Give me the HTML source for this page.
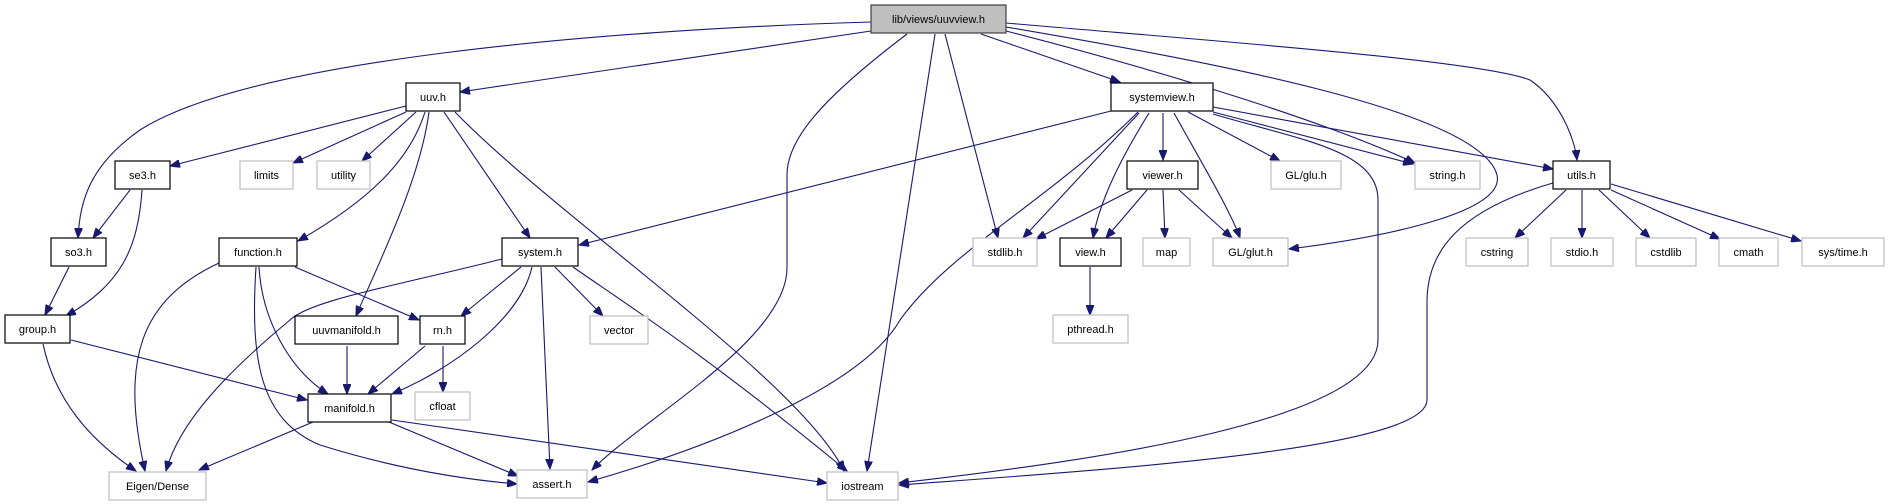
<!DOCTYPE html>
<html><head><meta charset="utf-8"><style>
html,body{margin:0;padding:0;background:#fff;}
svg{display:block;}
text{font-family:"Liberation Sans",sans-serif;font-size:11px;fill:#000;text-anchor:middle;}
.d{fill:#fff;stroke:#000;stroke-width:1.2;}
.s{fill:#fff;stroke:#bfbfbf;stroke-width:1.2;}
.e{fill:none;stroke:#191970;stroke-width:1.1;}
</style></head><body>
<svg width="1891" height="504" viewBox="0 0 1891 504" xmlns="http://www.w3.org/2000/svg">
<defs><marker id="a" markerWidth="11" markerHeight="8" refX="10" refY="4" orient="auto" markerUnits="userSpaceOnUse"><path d="M0,0 L10,4 L0,8 Z" fill="#191970" stroke="#191970"/></marker></defs>
<g marker-end="url(#a)">
<!-- root edges -->
<path class="e" d="M871,22 C600,30 250,60 140,130 C90,165 80,200 78,238"/>
<path class="e" d="M871,31 L460,92"/>
<path class="e" d="M907,34 C820,100 787,140 787,175 L787,268 C787,340 640,420 592,470"/>
<path class="e" d="M935,34 L867,471"/>
<path class="e" d="M945,34 L998,238"/>
<path class="e" d="M981,34 L1120,82"/>
<path class="e" d="M1006,31 C1100,55 1300,110 1415,163"/>
<path class="e" d="M1006,27 C1200,60 1480,110 1497,175 C1505,210 1400,235 1289,249"/>
<path class="e" d="M1006,23 C1200,40 1480,60 1530,80 C1560,100 1575,140 1577,160"/>
<!-- uuv.h -->
<path class="e" d="M406,106 L170,166"/>
<path class="e" d="M406,112 L293,163"/>
<path class="e" d="M416,112 L362,161"/>
<path class="e" d="M425,112 C410,160 370,200 298,241"/>
<path class="e" d="M429,112 C420,180 380,260 356,316"/>
<path class="e" d="M444,112 L530,238"/>
<path class="e" d="M455,112 C560,220 800,380 844,471"/>
<!-- systemview -->
<path class="e" d="M1111,111 L579,245"/>
<path class="e" d="M1138,112 C1050,200 950,250 900,320 C860,390 700,450 588,482"/>
<path class="e" d="M1139,113 L1023,238"/>
<path class="e" d="M1149,113 C1120,160 1100,200 1093,238"/>
<path class="e" d="M1163,113 L1163,160"/>
<path class="e" d="M1174,113 C1200,160 1230,210 1240,238"/>
<path class="e" d="M1188,112 L1280,161"/>
<path class="e" d="M1213,112 L1413,164"/>
<path class="e" d="M1213,114 C1300,140 1378,150 1378,200 L1378,340 C1378,420 1100,460 899,483"/>
<path class="e" d="M1213,107 L1553,169"/>
<!-- viewer -->
<path class="e" d="M1132,190 L1036,239"/>
<path class="e" d="M1147,190 L1106,238"/>
<path class="e" d="M1163,190 L1165,238"/>
<path class="e" d="M1179,190 L1232,238"/>
<path class="e" d="M1090,267 L1090,315"/>
<!-- utils -->
<path class="e" d="M1566,190 L1515,238"/>
<path class="e" d="M1582,190 L1582,238"/>
<path class="e" d="M1599,190 L1650,238"/>
<path class="e" d="M1611,190 L1720,239"/>
<path class="e" d="M1611,184 L1801,241"/>
<path class="e" d="M1553,183 C1460,210 1427,250 1427,302 L1427,400 C1427,450 1100,470 899,485"/>
<!-- se3, so3 -->
<path class="e" d="M130,190 L93,238"/>
<path class="e" d="M142,190 C138,250 120,285 66,316"/>
<path class="e" d="M69,267 L45,315"/>
<!-- function -->
<path class="e" d="M219,263 C140,300 120,360 145,471"/>
<path class="e" d="M259,267 C262,320 290,370 328,394"/>
<path class="e" d="M256,267 C250,360 260,420 320,445 C400,470 470,480 517,484"/>
<path class="e" d="M295,267 L419,320"/>
<path class="e" d="M347,346 L347,394"/>
<path class="e" d="M425,346 L368,394"/>
<path class="e" d="M443,346 L443,392"/>
<!-- system -->
<path class="e" d="M502,259 C400,285 310,300 290,320 C230,370 180,420 166,471"/>
<path class="e" d="M521,267 L461,316"/>
<path class="e" d="M532,267 C520,320 450,370 392,394"/>
<path class="e" d="M541,267 L550,469"/>
<path class="e" d="M555,267 L603,316"/>
<path class="e" d="M573,267 C620,300 700,350 847,471"/>
<!-- group -->
<path class="e" d="M71,340 L307,400"/>
<path class="e" d="M43,344 C55,400 90,440 136,471"/>
<!-- manifold -->
<path class="e" d="M313,422 L199,470"/>
<path class="e" d="M389,422 L518,476"/>
<path class="e" d="M392,420 L827,483"/>
</g>
<!-- nodes -->
<rect x="871" y="5" width="135" height="28" fill="#bfbfbf" stroke="#404040" stroke-width="1.2"/><text x="938.5" y="23">lib/views/uuvview.h</text>
<rect class="d" x="406" y="83" width="54" height="28"/><text x="433" y="101">uuv.h</text>
<rect class="d" x="1111" y="83" width="102" height="28"/><text x="1162" y="101">systemview.h</text>
<rect class="d" x="115" y="161" width="55" height="28"/><text x="142.5" y="179">se3.h</text>
<rect class="s" x="240" y="161" width="53" height="28"/><text x="266.5" y="179">limits</text>
<rect class="s" x="317" y="161" width="53" height="28"/><text x="343.5" y="179">utility</text>
<rect class="d" x="1127" y="161" width="71" height="28"/><text x="1162.5" y="179">viewer.h</text>
<rect class="s" x="1271" y="161" width="70" height="28"/><text x="1306" y="179">GL/glu.h</text>
<rect class="s" x="1415" y="161" width="65" height="28"/><text x="1447.5" y="179">string.h</text>
<rect class="d" x="1553" y="161" width="57" height="28"/><text x="1581.5" y="179">utils.h</text>
<rect class="d" x="51" y="238" width="55" height="28"/><text x="78.5" y="256">so3.h</text>
<rect class="d" x="219" y="238" width="78" height="28"/><text x="258" y="256">function.h</text>
<rect class="d" x="502" y="238" width="76" height="28"/><text x="540" y="256">system.h</text>
<rect class="s" x="973" y="238" width="64" height="28"/><text x="1005" y="256">stdlib.h</text>
<rect class="d" x="1060" y="238" width="61" height="28"/><text x="1090.5" y="256">view.h</text>
<rect class="s" x="1143" y="238" width="47" height="28"/><text x="1166.5" y="256">map</text>
<rect class="s" x="1213" y="238" width="75" height="28"/><text x="1250.5" y="256">GL/glut.h</text>
<rect class="s" x="1466" y="238" width="62" height="28"/><text x="1497" y="256">cstring</text>
<rect class="s" x="1551" y="238" width="62" height="28"/><text x="1582" y="256">stdio.h</text>
<rect class="s" x="1636" y="238" width="60" height="28"/><text x="1666" y="256">cstdlib</text>
<rect class="s" x="1719" y="238" width="59" height="28"/><text x="1748.5" y="256">cmath</text>
<rect class="s" x="1802" y="238" width="82" height="28"/><text x="1843" y="256">sys/time.h</text>
<rect class="d" x="5" y="315" width="65" height="28"/><text x="37.5" y="333">group.h</text>
<rect class="d" x="295" y="316" width="103" height="28"/><text x="346.5" y="334">uuvmanifold.h</text>
<rect class="d" x="420" y="316" width="45" height="28"/><text x="442.5" y="334">rn.h</text>
<rect class="s" x="590" y="316" width="58" height="28"/><text x="619" y="334">vector</text>
<rect class="s" x="1053" y="315" width="75" height="28"/><text x="1090.5" y="333">pthread.h</text>
<rect class="d" x="308" y="394" width="83" height="28"/><text x="349.5" y="412">manifold.h</text>
<rect class="s" x="415" y="392" width="55" height="28"/><text x="442.5" y="410">cfloat</text>
<rect class="s" x="109" y="472" width="97" height="28"/><text x="157.5" y="490">Eigen/Dense</text>
<rect class="s" x="517" y="470" width="70" height="28"/><text x="552" y="488">assert.h</text>
<rect class="s" x="827" y="472" width="71" height="28"/><text x="862.5" y="490">iostream</text>
</svg>
</body></html>
